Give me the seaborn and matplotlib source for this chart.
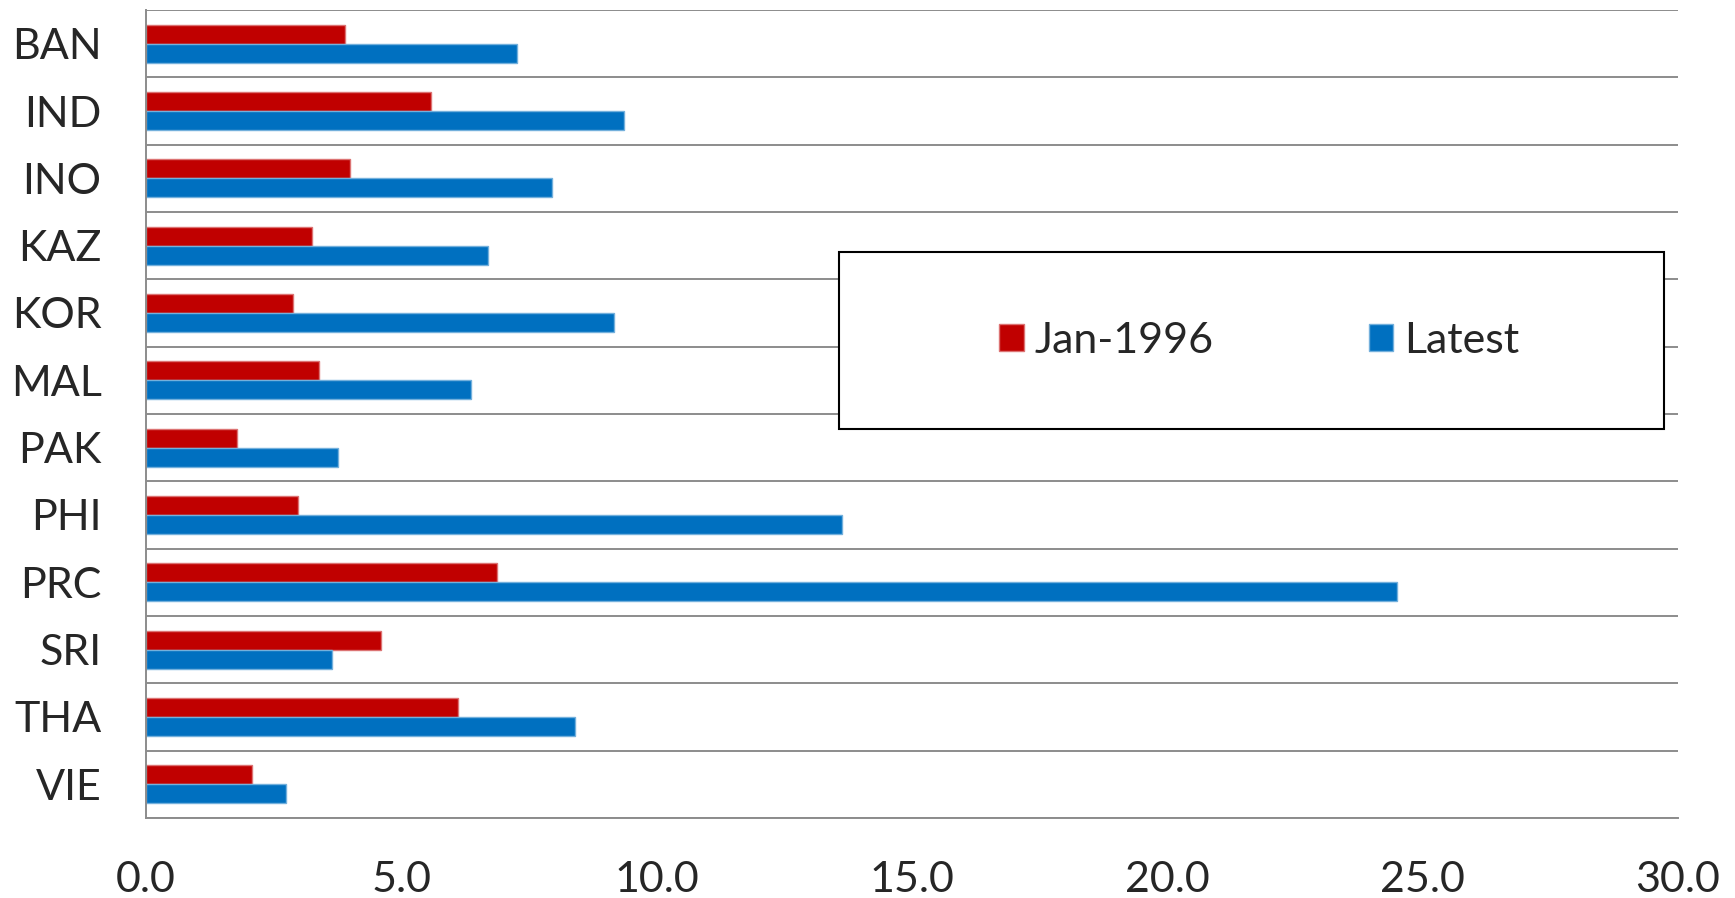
import numpy as np
import pandas as pd
import matplotlib
matplotlib.use("Agg")
import matplotlib.pyplot as plt
import matplotlib.colors as mcolors
import matplotlib.transforms as mtransforms
from matplotlib.patches import Rectangle
import seaborn as sns

# Economies and values for the two observation dates
economies = ["BAN", "IND", "INO", "KAZ", "KOR", "MAL", "PAK", "PHI", "PRC", "SRI", "THA", "VIE"]
jan_1996 = [3.89, 5.59, 4.00, 3.26, 2.88, 3.39, 1.79, 2.97, 6.87, 4.61, 6.11, 2.08]
latest = [7.27, 9.37, 7.95, 6.69, 9.16, 6.37, 3.76, 13.63, 24.50, 3.64, 8.40, 2.74]
series_names = ["Jan-1996", "Latest"]
x_ticks = [0, 5, 10, 15, 20, 25, 30]

df = pd.DataFrame({
    "economy": economies * 2,
    "value": jan_1996 + latest,
    "series": [series_names[0]] * len(economies) + [series_names[1]] * len(economies),
})

sns.set_theme(style="white")
plt.rcParams["font.family"] = ["Lato", "DejaVu Sans"]

palette = {"Jan-1996": "#C00000", "Latest": "#0070C0"}
grid_color = "#8C8C8C"
fs = 31

fig = plt.figure(figsize=(17.35, 8.98), dpi=100)
ax = fig.add_axes([146 / 1735, 1 - 818 / 898, (1678 - 146) / 1735, (818 - 10) / 898])

sns.barplot(data=df, y="economy", x="value", hue="series", order=economies,
            hue_order=series_names, palette=palette, orient="h", width=0.565,
            saturation=1, legend=True, ax=ax)

# light outline around each bar
for p in ax.patches:
    fc = np.array(mcolors.to_rgb(p.get_facecolor()))
    p.set_edgecolor(tuple(fc + (1 - fc) * 0.45))
    p.set_linewidth(1.0)

ax.set_xlim(0, 30)
ax.set_ylim(len(economies) - 0.5, -0.5)
ax.set_xticks(x_ticks)
ax.set_xticklabels([f"{v:.1f}" for v in x_ticks], fontsize=fs)
ax.set_yticks(range(len(economies)))
ax.set_yticklabels(economies, fontsize=fs)
ax.set_xlabel("")
ax.set_ylabel("")

# nudge category labels up slightly
lift = mtransforms.ScaledTranslation(0, 3 / 100, fig.dpi_scale_trans)
for lab in ax.get_yticklabels():
    lab.set_transform(lab.get_transform() + lift)

# category separators
ax.set_yticks(np.arange(-0.5, len(economies), 1), minor=True)
ax.grid(False)
ax.grid(axis="y", which="minor", color=grid_color, linewidth=1.4)
ax.tick_params(axis="y", which="both", length=0, pad=32)
ax.tick_params(axis="x", direction="in", length=11, width=1.3, color=grid_color, pad=31)

for side in ["top", "right"]:
    ax.spines[side].set_visible(False)
for side in ["left", "bottom"]:
    ax.spines[side].set_color(grid_color)
    ax.spines[side].set_linewidth(1.4)

# legend inside a framed box drawn over the plot area
handles, labels = ax.get_legend_handles_labels()
ax.get_legend().remove()
fig.add_artist(Rectangle((839 / 1735, 1 - 429 / 898), 825 / 1735, 177 / 898,
                         transform=fig.transFigure, facecolor="white",
                         edgecolor="black", linewidth=1.5, zorder=4))
leg = fig.legend(handles, labels, loc="center", bbox_to_anchor=(1259 / 1735, 1 - 341 / 898),
                 ncol=2, frameon=False, fontsize=fs, handlelength=0.58, handleheight=0.58,
                 handletextpad=0.25, columnspacing=3.6)
leg.set_zorder(5)

fig.savefig("out.png", dpi=100)
